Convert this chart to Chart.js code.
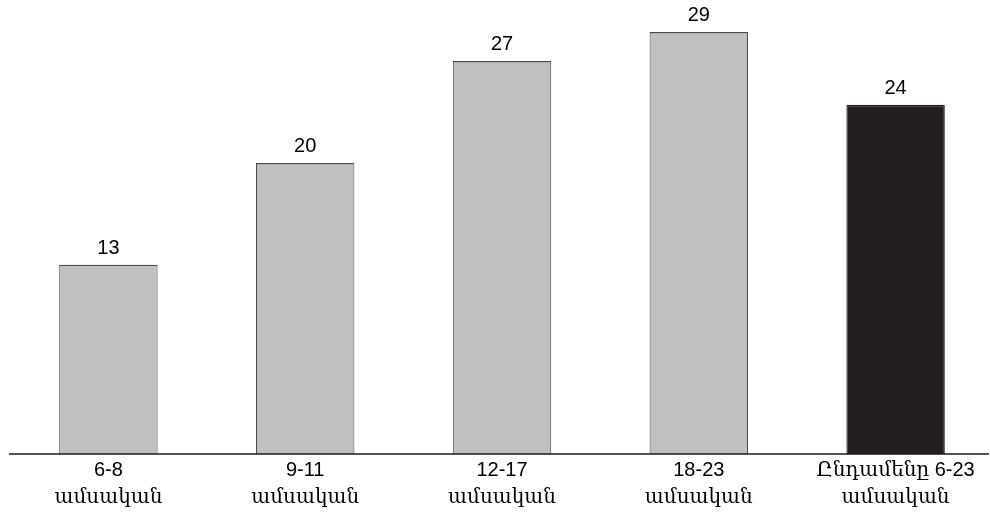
<!DOCTYPE html>
<html>
<head>
<meta charset="utf-8">
<script src="https://cdn.jsdelivr.net/npm/chart.js@4.4.1/dist/chart.umd.min.js"></script>
<style>
  html, body { margin: 0; padding: 0; background: #ffffff; overflow: hidden; }
  #wrap { width: 990px; height: 527px; position: relative; overflow: hidden; }
  #chart { position: absolute; left: 0; top: 0; }
</style>
</head>
<body>
<div id="wrap"><canvas id="chart" width="994" height="527"></canvas></div>
<script>
// Age groups (two-line labels) and their values
const ageGroups = [
  ["6-8", "ամսական"],
  ["9-11", "ամսական"],
  ["12-17", "ամսական"],
  ["18-23", "ամսական"],
  ["Ընդամենը 6-23", "ամսական"]
];
const values = [13, 20, 27, 29, 24];
const barColors = ["#c0c0c0", "#c0c0c0", "#c0c0c0", "#c0c0c0", "#231f20"];

const FONT = '"Liberation Sans", Arial, "DejaVu Serif", sans-serif';

// Writes each value centred above its bar
const valueLabels = {
  id: 'valueLabels',
  afterDatasetsDraw(chart) {
    const ctx = chart.ctx;
    const meta = chart.getDatasetMeta(0);
    ctx.save();
    ctx.font = '20px ' + FONT;
    ctx.fillStyle = '#000';
    ctx.textAlign = 'center';
    ctx.textBaseline = 'alphabetic';
    meta.data.forEach((bar, i) => {
      ctx.fillText(String(values[i]), bar.x, bar.y - 11);
    });
    ctx.restore();
  }
};

// Baseline under the bars, ending a little before the right edge
const baseline = {
  id: 'baseline',
  afterDatasetsDraw(chart) {
    const ctx = chart.ctx;
    const y = chart.chartArea.bottom;
    ctx.save();
    ctx.strokeStyle = '#1a1a1a';
    ctx.lineWidth = 1.5;
    ctx.beginPath();
    ctx.moveTo(9, y);
    ctx.lineTo(989, y);
    ctx.stroke();
    ctx.restore();
  }
};

new Chart(document.getElementById('chart'), {
  type: 'bar',
  data: {
    labels: ageGroups,
    datasets: [{
      data: values,
      backgroundColor: barColors,
      borderColor: ['#4a4a4a', '#4a4a4a', '#4a4a4a', '#4a4a4a', '#231f20'],
      borderWidth: { top: 1.5, left: 1, right: 1, bottom: 0 },
      borderSkipped: 'bottom',
      categoryPercentage: 1.0,
      barPercentage: 0.5
    }]
  },
  options: {
    responsive: false,
    animation: false,
    layout: { padding: { left: 10, right: 0, top: 0, bottom: 13 } },
    plugins: { legend: { display: false }, tooltip: { enabled: false } },
    scales: {
      x: {
        grid: { display: false, drawTicks: false },
        border: { display: false },
        ticks: {
          color: '#000',
          padding: 3,
          maxRotation: 0,
          autoSkip: false,
          font: { family: FONT, size: 20, lineHeight: 1.35 }
        }
      },
      y: {
        display: false,
        min: 0,
        max: 31.2
      }
    }
  },
  plugins: [valueLabels, baseline]
});
</script>
</body>
</html>
